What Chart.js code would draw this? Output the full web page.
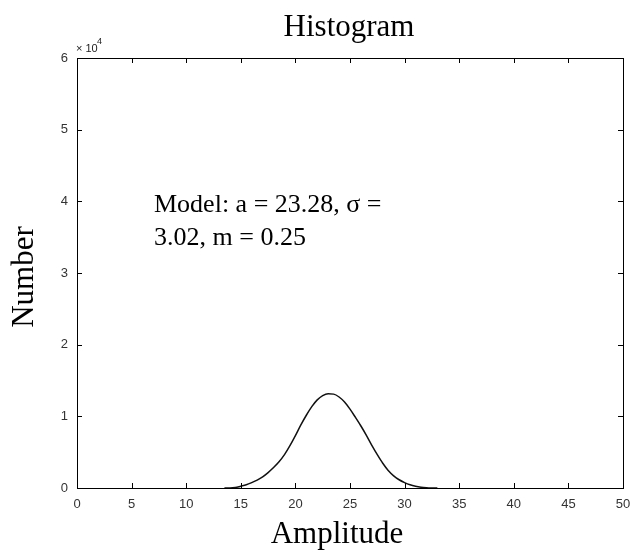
<!DOCTYPE html>
<html>
<head>
<meta charset="utf-8">
<script src="https://cdn.jsdelivr.net/npm/chart.js@4.4.1/dist/chart.umd.min.js"></script>
<style>
  html, body { margin:0; padding:0; background:#fff; }
  #wrap { width:631px; height:553px; position:relative; }
</style>
</head>
<body>
<div id="wrap"><canvas id="hist"></canvas></div>
<script>
// ── data ──
const amplitude = [13.5,14,14.5,15,15.5,16,16.5,17,17.5,18,18.5,19,19.5,20,20.5,21,21.5,22,22.5,23,23.5,24,24.5,25,25.5,26,26.5,27,27.5,28,28.5,29,29.5,30,30.5,31,31.5,32,32.5,33];
const counts    = [0,0,60,250,450,750,1100,1550,2150,2850,3650,4650,5900,7300,8800,10150,11350,12300,12900,13150,13100,12700,12000,11000,9850,8650,7350,5950,4650,3450,2450,1700,1150,750,450,250,120,50,15,0];
const xTicks = [0,5,10,15,20,25,30,35,40,45,50];
const yTicks = [0,1,2,3,4,5,6];   // ×10^4
const yScaleExp = 4;

const titleText = 'Histogram';
const xLabel = 'Amplitude';
const yLabel = 'Number';
const noteLines = ['Model: a = 23.28, \u03c3 =', '3.02, m = 0.25'];

const SERIF = '"Liberation Serif", "Times New Roman", serif';
const SANS  = '"Liberation Sans", Arial, sans-serif';

// box + inward ticks on all four sides, plus text, matlab style
const matlabFrame = {
  id: 'matlabFrame',
  afterDraw(chart) {
    const { ctx, chartArea: a, scales: { x, y } } = chart;
    const tl = 5;
    ctx.save();
    ctx.strokeStyle = '#000';
    ctx.lineWidth = 1;
    ctx.strokeRect(Math.round(a.left)+0.5, Math.round(a.top)+0.5, Math.round(a.right-a.left), Math.round(a.bottom-a.top));
    ctx.beginPath();
    xTicks.forEach(v => {
      const px = Math.round(x.getPixelForValue(v)) + 0.5;
      ctx.moveTo(px, a.bottom); ctx.lineTo(px, a.bottom - tl);
      ctx.moveTo(px, a.top);    ctx.lineTo(px, a.top + tl);
    });
    yTicks.forEach(v => {
      const py = Math.round(y.getPixelForValue(v * 10 ** yScaleExp)) + 0.5;
      ctx.moveTo(a.left, py);  ctx.lineTo(a.left + tl, py);
      ctx.moveTo(a.right, py); ctx.lineTo(a.right - tl, py);
    });
    ctx.stroke();

    // exponent label
    ctx.fillStyle = '#222';
    ctx.font = '11px ' + SANS;
    ctx.textAlign = 'left'; ctx.textBaseline = 'alphabetic';
    ctx.fillText('\u00d7 10', a.left - 1, a.top - 6);
    ctx.font = '9px ' + SANS;
    ctx.fillText(String(yScaleExp), a.left + 20, a.top - 14);

    // titles
    ctx.fillStyle = '#000';
    ctx.font = '31px ' + SERIF;
    ctx.textAlign = 'center';
    ctx.fillText(titleText, 349, 36);
    ctx.fillText(xLabel, 337, 543);
    ctx.save();
    ctx.translate(33, (a.top + a.bottom) / 2 + 4);
    ctx.rotate(-Math.PI / 2);
    ctx.fillText(yLabel, 0, 0);
    ctx.restore();

    // model note
    ctx.font = '26px ' + SERIF;
    ctx.textAlign = 'left';
    ctx.fillText(noteLines[0], 154, 212);
    ctx.fillText(noteLines[1], 154, 245);
    ctx.restore();
  }
};

new Chart(document.getElementById('hist').getContext('2d'), {
  type: 'line',
  data: {
    datasets: [{
      data: amplitude.map((v, i) => ({ x: v, y: counts[i] })),
      borderColor: '#111',
      borderWidth: 1.5,
      pointRadius: 0,
      cubicInterpolationMode: 'monotone',
      fill: false,
    }]
  },
  options: {
    responsive: true, maintainAspectRatio: false, animation: false,
    layout: { padding: { top: 58, right: 8, left: 0, bottom: 0 } },
    plugins: { legend: { display: false }, tooltip: { enabled: false } },
    scales: {
      x: {
        type: 'linear', min: 0, max: 50,
        afterBuildTicks: s => { s.ticks = xTicks.map(v => ({ value: v })); },
        afterFit: s => { s.height = 65; s.paddingLeft = 0; s.paddingRight = 0; },
        grid: { display: false, drawTicks: false }, border: { display: false },
        ticks: { color: '#333', font: { family: SANS, size: 13 }, padding: 9, maxRotation: 0 },
      },
      y: {
        min: 0, max: 6 * 10 ** yScaleExp,
        afterBuildTicks: s => { s.ticks = yTicks.map(v => ({ value: v * 10 ** yScaleExp })); },
        afterFit: s => { s.width = 77; s.paddingTop = 0; s.paddingBottom = 0; },
        grid: { display: false, drawTicks: false }, border: { display: false },
        ticks: { color: '#333', font: { family: SANS, size: 13 }, padding: 9, callback: v => v / 10 ** yScaleExp },
      }
    }
  },
  plugins: [matlabFrame]
});
</script>
</body>
</html>
